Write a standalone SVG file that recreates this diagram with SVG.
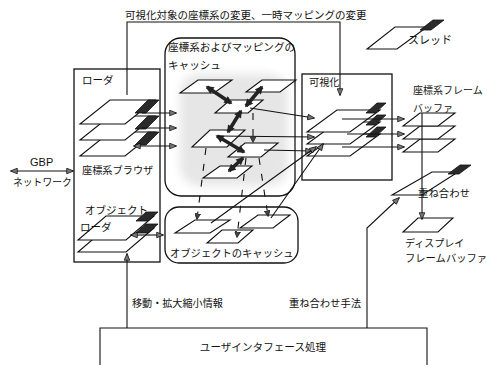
<svg xmlns="http://www.w3.org/2000/svg" width="487" height="365" viewBox="0 0 487 365">
<style>
text{font-family:"Noto Sans CJK JP","Noto Sans",sans-serif;fill:#111}
.en{font-family:"Liberation Sans",Arial,sans-serif}
.box{fill:#fff;stroke:#111;stroke-width:1.3}
.sheet{fill:#fff;stroke:#111;stroke-width:1.1;stroke-linejoin:miter}
.tab{fill:#2a2a2a;stroke:#111;stroke-width:0.8}
.ln{fill:none;stroke:#111;stroke-width:1.1}
.arr{fill:none;stroke:#111;stroke-width:1.1;marker-end:url(#ah)}
.arr2{fill:none;stroke:#111;stroke-width:1.1;marker-start:url(#ah);marker-end:url(#ah)}
.thick{fill:none;stroke:#222;stroke-width:3.6;marker-start:url(#th);marker-end:url(#th)}
.dash{fill:none;stroke:#111;stroke-width:1.1;stroke-dasharray:7 9;marker-end:url(#sm)}
</style>
<defs>
<marker id="ah" viewBox="0 0 10 10" refX="9" refY="5" markerWidth="8" markerHeight="7" markerUnits="userSpaceOnUse" orient="auto-start-reverse"><path d="M0,1 L10,5 L0,9 Z" fill="#777" stroke="#000" stroke-width="1"/></marker>
<marker id="th" viewBox="0 0 10 10" refX="8" refY="5" markerWidth="9" markerHeight="8" markerUnits="userSpaceOnUse" orient="auto-start-reverse"><path d="M0,0 L10,5 L0,10 Z" fill="#222"/></marker>
<marker id="sm" viewBox="0 0 10 10" refX="9" refY="5" markerWidth="6" markerHeight="6" markerUnits="userSpaceOnUse" orient="auto"><path d="M0,0 L10,5 L0,10 Z" fill="#444" stroke="#000" stroke-width="1"/></marker>
<filter id="soft" x="-20%" y="-20%" width="140%" height="140%"><feGaussianBlur stdDeviation="5"/></filter>
</defs>
<rect width="487" height="365" fill="#fff"/>

<g id="top-label">
<text x="125" y="19" font-size="10.5">可視化対象の座標系の変更、一時マッピングの変更</text>
</g>

<g id="thread-legend">
<path class="sheet" d="M395,27 H427 L397,49 H367 Z"/>
<path class="tab" d="M433,20 H444 L431,30 H420 Z"/>
<text x="408" y="44" font-size="11">スレッド</text>
</g>

<g id="loader">
<rect class="box" x="74" y="69" width="86" height="193"/>
<text x="82" y="84" font-size="10.5">ローダ</text>
<path class="sheet" d="M110,132 H155 L125,156 H80 Z"/>
<path class="tab" d="M148,132 H159 L146,145 H135 Z"/>
<path class="sheet" d="M110,116 H155 L125,140 H80 Z"/>
<path class="tab" d="M148,116 H159 L146,129 H135 Z"/>
<path class="sheet" d="M110,100 H155 L125,124 H80 Z"/>
<path class="tab" d="M148,100 H159 L146,113 H135 Z"/>
<text x="82" y="174" font-size="10.2">座標系ブラウザ</text>
<path class="sheet" d="M106,228 H154 L126,252 H78 Z"/>
<path class="tab" d="M146,224 H158 L148,233 H136 Z"/>
<path class="sheet" d="M106,216 H154 L126,240 H78 Z"/>
<path class="tab" d="M146,212 H158 L148,221 H136 Z"/>
<text x="85" y="214" font-size="10.5">オブジェクト</text>
<text x="80" y="231" font-size="10.5">ローダ</text>
</g>

<g id="network">
<text class="en" x="30" y="166" font-size="11">GBP</text>
<text x="13" y="186" font-size="9.8">ネットワーク</text>
</g>

<g id="coord-cache">
<rect class="box" x="165" y="38" width="130" height="158" rx="16"/>
<rect x="180" y="74" width="108" height="112" rx="20" fill="#e6e6e6" filter="url(#soft)"/>
<text x="168" y="51" font-size="10.6">座標系およびマッピングの</text>
<text x="168" y="69" font-size="10.6">キャッシュ</text>
<path class="sheet" d="M198,80 H232 L214,93 H180 Z"/>
<path class="sheet" d="M262,80 H296 L280,92 H246 Z"/>
<path class="sheet" d="M230,100 H263 L248,113 H215 Z"/>
<path class="sheet" d="M210,130 H245 L227,147 H192 Z"/>
<path class="sheet" d="M245,143 H278 L261,157 H228 Z"/>
<path class="sheet" d="M220,166 H252 L237,178 H203 Z"/>
</g>

<g id="object-cache">
<rect class="box" x="165" y="207" width="133" height="56" rx="14"/>
<path class="sheet" d="M195,220 H230 L210,233 H175 Z"/>
<path class="sheet" d="M258,215 H290 L273,228 H240 Z"/>
<path class="sheet" d="M222,230 H253 L238,243 H207 Z"/>
<text x="170" y="257" font-size="10.3">オブジェクトのキャッシュ</text>
</g>

<g id="visualization">
<rect class="box" x="302" y="74" width="90" height="106"/>
<text x="309" y="86" font-size="10.2">可視化</text>
<path class="sheet" d="M337,134 H380 L350,156 H307 Z"/>
<path class="tab" d="M377,127 H386 L375,137 H366 Z"/>
<path class="sheet" d="M337,122 H380 L350,144 H307 Z"/>
<path class="tab" d="M377,115 H386 L375,125 H366 Z"/>
<path class="sheet" d="M337,110 H380 L350,132 H307 Z"/>
<path class="tab" d="M377,103 H386 L375,113 H366 Z"/>
</g>

<g id="coord-frame-buffer">
<text x="413" y="94" font-size="10">座標系フレーム</text>
<text x="413" y="112" font-size="10">バッファ</text>
<path class="sheet" d="M420,139 H455 L438,152 H403 Z"/>
<path class="sheet" d="M420,126 H455 L438,139 H403 Z"/>
<path class="sheet" d="M420,113 H455 L438,126 H403 Z"/>
</g>

<g id="overlay">
<path class="sheet" d="M432,172 H458 L422,195 H392 Z"/>
<path class="tab" d="M460,165 H471 L459,174 H448 Z"/>
<text x="418" y="197" font-size="10.4">重ね合わせ</text>
</g>

<g id="display-frame-buffer">
<path class="sheet" d="M418,218 H453 L438,232 H403 Z"/>
<text x="405" y="247" font-size="10">ディスプレイ</text>
<text x="405" y="262" font-size="10.3">フレームバッファ</text>
</g>

<g id="ui">
<path class="ln" d="M100,365 V328 H427 V365" stroke-width="1.3"/>
<text x="263" y="351" font-size="10.6" text-anchor="middle">ユーザインタフェース処理</text>
</g>

<g id="connectors">
<path class="arr" d="M127,95 V22 H340 V95"/>
<path class="arr2" d="M11,171 H73"/>
<path class="arr" d="M142,113 H176"/>
<path class="arr" d="M142,128 H176"/>
<path class="arr2" d="M134,146 H176"/>
<path class="arr2" d="M131,235 H163"/>
<path class="thick" d="M207,87 L231,103"/>
<path class="thick" d="M262,87 L246,106"/>
<path class="thick" d="M241,111 L228,132"/>
<path class="thick" d="M217,136 L244,152"/>
<path class="thick" d="M243,158 L229,171"/>
<path class="dash" d="M253,113 V142"/>
<path class="dash" d="M206,148 L197,219"/>
<path class="dash" d="M246,158 L237,237"/>
<path class="dash" d="M259,158 L268,216"/>
<path class="arr" d="M250,108 L314,118"/>
<path class="arr" d="M218,136 L314,137"/>
<path class="arr" d="M264,150 L312,151"/>
<path class="arr" d="M211,223 L316,147"/>
<path class="arr" d="M271,218 L323,144"/>
<path class="arr" d="M342,119 H404"/>
<path class="arr" d="M347,134 H404"/>
<path class="arr" d="M342,147 H404"/>
<path class="arr" d="M422,113 V219"/>
<path class="arr" d="M367,328 V228 L399,198"/>
<path class="arr" d="M127,328 V254"/>
<text x="132" y="307" font-size="10.1">移動・拡大縮小情報</text>
<text x="361" y="307" font-size="10.3" text-anchor="end">重ね合わせ手法</text>
</g>
</svg>
